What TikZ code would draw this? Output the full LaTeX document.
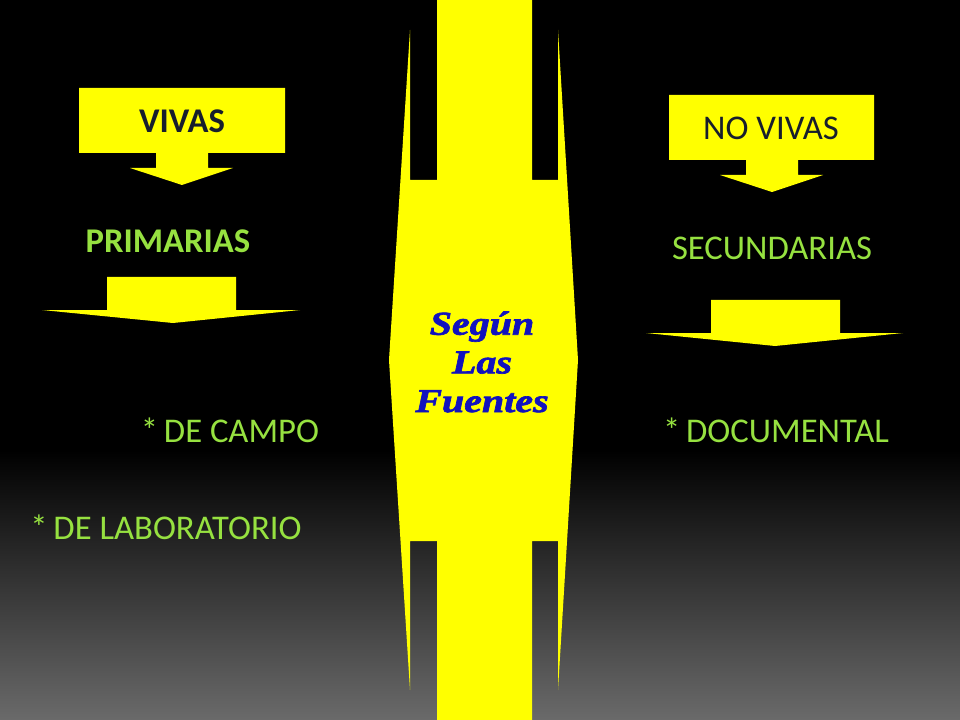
\documentclass[tikz,border=0pt]{standalone}
\usepackage{fontspec}
\setmainfont{Carlito}
\newfontfamily\widefont[FakeStretch=1.2, FakeBold=2]{Liberation Serif Bold Italic}
\definecolor{lima}{RGB}{150,225,64}
\definecolor{amarillo}{RGB}{255,255,0}
\definecolor{tinta}{RGB}{23,30,45}
\definecolor{azul}{RGB}{18,18,190}
\definecolor{fondo}{RGB}{106,106,106}

\begin{document}
\begin{tikzpicture}[x=0.75pt,y=-0.75pt]
\tikzset{
    flecha/.style={fill=amarillo, draw=none},
    item/.style={text=lima, inner sep=0pt, font=\fontsize{26}{31}\selectfont},
    titulo/.style={text=tinta, inner sep=0pt, font=\fontsize{26}{31}\selectfont}
}

  % fondo
  \useasboundingbox (0,0) rectangle (960,720);
  \fill[black] (0,0) rectangle (960,720);
  \shade[top color=black, bottom color=fondo] (0,450) rectangle (960,720);

  % barra central con doble punta
  \fill[flecha] (437,0) -- (532,0) -- (532,180) -- (558,180) -- (558,30)
    -- (578,360) -- (558,690) -- (558,541) -- (532,541) -- (532,720)
    -- (437,720) -- (437,541) -- (410,541) -- (410,690) -- (389,360)
    -- (410,30) -- (410,180) -- (437,180) -- cycle;

  % cajas con flecha
  \fill[flecha] (79,88) -- (285,88) -- (285,153) -- (208,153) -- (208,168)
    -- (233,168) -- (182,185) -- (130,168) -- (156,168) -- (156,153)
    -- (79,153) -- cycle;
  \fill[flecha] (669,95) -- (874,95) -- (874,160) -- (798,160) -- (798,175)
    -- (823,175) -- (772,192) -- (720,175) -- (746,175) -- (746,160)
    -- (669,160) -- cycle;
  \fill[flecha] (107,277) -- (236,277) -- (236,310) -- (300,310) -- (173,323)
    -- (42,310) -- (107,310) -- cycle;
  \fill[flecha] (711,300) -- (840,300) -- (840,333) -- (903,333) -- (775,346)
    -- (646,333) -- (711,333) -- cycle;

  \node[titulo, font=\fontsize{26}{31}\selectfont\bfseries] (vivas) at (182,121) {VIVAS};
  \node[titulo] (novivas) at (771,128) {NO VIVAS};
  \node[item, font=\fontsize{26}{31}\selectfont\bfseries] (primarias) at (168,241) {PRIMARIAS};
  \node[item] (secundarias) at (772,248) {SECUNDARIAS};
  \node[item] (campo) at (230,430) {*\,DE CAMPO};
  \node[item] (documental) at (776,430) {*\,DOCUMENTAL};
  \node[item] (laboratorio) at (166,527) {*\,DE LABORATORIO};

  \node[text=azul, align=center, inner sep=0pt,
        font=\widefont\fontsize{25}{29}\selectfont] (fuentes) at (482,362)
        {Según\\Las\\Fuentes};
\end{tikzpicture}
\end{document}
